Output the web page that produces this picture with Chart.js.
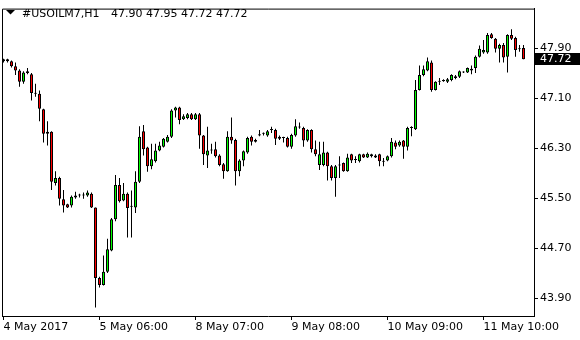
<!DOCTYPE html>
<html>
<head>
<meta charset="utf-8">
<script src="https://cdn.jsdelivr.net/npm/chart.js@4.4.0/dist/chart.umd.min.js"></script>
<style>
  html, body { margin: 0; padding: 0; background: #fff; }
</style>
</head>
<body>
<canvas id="chart" width="580" height="340"></canvas>
<script>
const symbol = '#USOILM7,H1';

// hourly bars
const open = [
  47.69, 47.72, 47.69, 47.61, 47.54, 47.36, 47.53, 47.48, 47.18, 47.17,
  46.92, 46.53, 46.56, 45.74, 45.82, 45.48, 45.40, 45.38, 45.51, 45.54,
  45.54, 45.54, 45.57, 45.35, 44.22, 44.11, 44.32, 44.66, 45.16, 45.71,
  45.46, 45.57, 45.36, 45.35, 45.76, 46.57, 46.31, 46.01, 46.09, 46.26,
  46.32, 46.40, 46.48, 46.90, 46.95, 46.76, 46.78, 46.84, 46.76, 46.84,
  46.50, 46.18, 46.26, 46.28, 46.18, 46.04, 45.93, 46.48, 46.43, 45.93,
  46.10, 46.23, 46.48, 46.40, 46.50, 46.53, 46.50, 46.59, 46.59, 46.45,
  46.46, 46.46, 46.32, 46.50, 46.64, 46.62, 46.42, 46.59, 46.28, 46.03,
  46.03, 46.23, 46.01, 45.82, 46.03, 46.06, 45.93, 46.20, 46.12, 46.09,
  46.20, 46.15, 46.20, 46.15, 46.20, 46.09, 46.10, 46.17, 46.39, 46.34,
  46.42, 46.32, 46.62, 46.60, 47.23, 47.47, 47.54, 47.67, 47.23, 47.36,
  47.37, 47.36, 47.39, 47.42, 47.44, 47.51, 47.51, 47.54, 47.58, 47.76,
  47.83, 47.83, 48.12, 48.05, 47.89, 47.95, 47.76, 48.11, 48.06, 47.88,
  47.90
];
const high = [
  47.73, 47.73, 47.70, 47.67, 47.56, 47.53, 47.58, 47.50, 47.33, 47.22,
  46.93, 46.73, 46.57, 45.93, 45.84, 45.63, 45.41, 45.54, 45.60, 45.57,
  45.59, 45.62, 45.59, 45.35, 44.24, 44.58, 44.85, 45.18, 45.87, 45.82,
  45.74, 45.59, 45.62, 45.93, 46.65, 46.67, 46.32, 46.37, 46.37, 46.40,
  46.46, 46.51, 46.92, 46.96, 46.96, 46.84, 46.86, 46.86, 46.86, 46.86,
  46.51, 46.64, 46.37, 46.40, 46.20, 46.06, 46.57, 46.79, 46.45, 46.12,
  46.26, 46.48, 46.50, 46.45, 46.59, 46.55, 46.59, 46.64, 46.61, 46.50,
  46.48, 46.48, 46.53, 46.76, 46.71, 46.64, 46.60, 46.60, 46.42, 46.40,
  46.40, 46.24, 46.03, 46.03, 46.17, 46.07, 46.21, 46.21, 46.17, 46.21,
  46.21, 46.23, 46.21, 46.20, 46.21, 46.14, 46.18, 46.46, 46.42, 46.42,
  46.43, 46.64, 46.65, 47.39, 47.62, 47.62, 47.75, 47.70, 47.37, 47.42,
  47.40, 47.42, 47.48, 47.47, 47.54, 47.53, 47.59, 47.62, 47.78, 47.94,
  48.03, 48.14, 48.14, 48.06, 47.97, 47.98, 48.12, 48.20, 48.08, 47.95,
  47.95
];
const low = [
  47.67, 47.67, 47.59, 47.47, 47.28, 47.33, 47.48, 47.06, 47.12, 46.73,
  46.39, 46.34, 45.63, 45.70, 45.38, 45.27, 45.34, 45.35, 45.49, 45.51,
  45.49, 45.52, 45.34, 43.75, 44.07, 44.10, 44.30, 44.65, 45.13, 45.43,
  45.45, 44.87, 44.87, 45.26, 45.74, 46.18, 45.92, 45.96, 46.07, 46.25,
  46.31, 46.39, 46.46, 46.79, 46.68, 46.75, 46.76, 46.75, 46.75, 46.29,
  46.03, 45.98, 46.21, 46.15, 46.01, 45.81, 45.92, 46.37, 45.70, 45.85,
  46.01, 46.21, 46.34, 46.39, 46.49, 46.50, 46.48, 46.54, 46.35, 46.43,
  46.39, 46.31, 46.29, 46.48, 46.61, 46.32, 46.40, 46.23, 46.17, 45.95,
  46.01, 45.78, 45.78, 45.52, 45.82, 45.92, 45.92, 46.06, 46.06, 46.07,
  46.14, 46.14, 46.15, 46.14, 46.01, 46.01, 46.09, 46.15, 46.28, 46.32,
  46.13, 46.26, 46.49, 46.59, 47.22, 47.45, 47.53, 47.20, 47.22, 47.31,
  47.36, 47.34, 47.37, 47.40, 47.42, 47.50, 47.50, 47.48, 47.50, 47.75,
  47.81, 47.81, 48.05, 47.83, 47.67, 47.67, 47.51, 48.03, 47.76, 47.84,
  47.72
];
const close = [
  47.72, 47.69, 47.61, 47.54, 47.36, 47.51, 47.50, 47.18, 47.17, 46.93,
  46.53, 46.56, 45.76, 45.82, 45.49, 45.38, 45.35, 45.52, 45.54, 45.54,
  45.55, 45.59, 45.35, 44.22, 44.11, 44.32, 44.68, 45.16, 45.71, 45.45,
  45.57, 45.34, 45.37, 45.76, 46.48, 46.28, 46.01, 46.12, 46.26, 46.34,
  46.45, 46.48, 46.90, 46.95, 46.75, 46.81, 46.84, 46.76, 46.84, 46.50,
  46.20, 46.26, 46.27, 46.17, 46.03, 45.93, 46.48, 46.42, 45.93, 46.10,
  46.25, 46.46, 46.40, 46.43, 46.52, 46.53, 46.57, 46.59, 46.45, 46.48,
  46.47, 46.32, 46.51, 46.65, 46.63, 46.42, 46.59, 46.28, 46.20, 46.20,
  46.23, 46.01, 45.82, 46.01, 46.02, 45.93, 46.15, 46.10, 46.11, 46.20,
  46.15, 46.21, 46.17, 46.18, 46.09, 46.08, 46.17, 46.40, 46.32, 46.40,
  46.32, 46.62, 46.63, 47.23, 47.47, 47.56, 47.69, 47.23, 47.36, 47.37,
  47.39, 47.40, 47.47, 47.45, 47.53, 47.52, 47.58, 47.57, 47.76, 47.89,
  47.87, 48.11, 48.06, 47.89, 47.95, 47.75, 48.11, 48.05, 47.87, 47.89,
  47.72
];

const tickLabels = ['4 May 2017', '5 May 06:00', '8 May 07:00', '9 May 08:00', '10 May 09:00', '11 May 10:00'];
const tickBars = [0, 24, 48, 72, 96, 120];
const priceTicks = [43.90, 44.70, 45.50, 46.30, 47.10, 47.90];

const font = { family: 'DejaVu Sans', size: 11 };
const last = close.length - 1;

// frame, header text and the current price box (MT4 look)
const mt4Extras = {
  id: 'mt4Extras',
  afterDraw(chart) {
    const ctx = chart.ctx;
    const ca = chart.chartArea;
    ctx.save();
    ctx.strokeStyle = '#000';
    ctx.lineWidth = 1;
    ctx.beginPath();
    ctx.moveTo(ca.left + 0.5, ca.bottom);
    ctx.lineTo(ca.left + 0.5, ca.top + 0.5);
    ctx.lineTo(ca.right, ca.top + 0.5);
    ctx.stroke();

    ctx.fillStyle = '#000';
    ctx.beginPath();
    ctx.moveTo(6, 10);
    ctx.lineTo(15, 10);
    ctx.lineTo(10.5, 14.5);
    ctx.closePath();
    ctx.fill();

    ctx.font = '11px "DejaVu Sans"';
    ctx.textBaseline = 'alphabetic';
    ctx.textAlign = 'left';
    ctx.fillText(symbol, 22, 17);
    const ohlc = [open[last], high[last], low[last], close[last]].map(v => v.toFixed(2)).join(' ');
    ctx.fillText(ohlc, 111, 17);

    const y = Math.round(chart.scales.y.getPixelForValue(close[last]));
    ctx.fillRect(ca.right + 1, y - 6, 580 - ca.right - 1, 12);
    ctx.fillStyle = '#fff';
    ctx.textBaseline = 'middle';
    ctx.fillText(close[last].toFixed(2), ca.right + 6, y + 0.5);
    ctx.restore();
  }
};

new Chart(document.getElementById('chart'), {
  type: 'bar',
  data: {
    datasets: [
      {
        label: 'body',
        order: 1,
        grouped: false,
        data: open.map((o, i) => ({ x: i, y: [o, close[i]] })),
        backgroundColor: open.map((o, i) => close[i] >= o ? '#00ff00' : '#ff0000'),
        borderColor: '#000',
        borderWidth: 1,
        borderSkipped: false,
        inflateAmount: 0,
        barThickness: 3,
        minBarLength: 1
      },
      {
        label: 'wick',
        order: 2,
        grouped: false,
        data: low.map((l, i) => ({ x: i, y: [l, high[i]] })),
        backgroundColor: '#000',
        borderWidth: 0,
        inflateAmount: 0,
        barThickness: 1
      }
    ]
  },
  options: {
    responsive: false,
    animation: false,
    devicePixelRatio: 1,
    layout: { padding: { left: 2, top: 2, right: 0, bottom: 0 } },
    plugins: {
      legend: { display: false },
      tooltip: { enabled: false }
    },
    scales: {
      x: {
        type: 'linear',
        offset: false,
        min: -0.375,
        max: 132.625,
        afterBuildTicks: s => { s.ticks = tickBars.map(v => ({ value: v })); },
        afterFit: s => { s.height = 24; },
        grid: { offset: false, drawOnChartArea: false, drawTicks: true, tickLength: 4, color: '#000' },
        border: { display: true, color: '#000' },
        ticks: {
          autoSkip: false,
          maxRotation: 0,
          align: 'start',
          padding: 1,
          color: '#000',
          font: font,
          callback: (v, i) => tickLabels[i]
        }
      },
      y: {
        position: 'right',
        min: 43.613,
        max: 48.531,
        afterBuildTicks: s => { s.ticks = priceTicks.map(v => ({ value: v })); },
        afterFit: s => { s.width = 46; },
        grid: { drawOnChartArea: false, drawTicks: true, tickLength: 4, color: '#000' },
        border: { display: true, color: '#000' },
        ticks: {
          padding: 2,
          color: '#000',
          font: font,
          callback: v => v.toFixed(2)
        }
      }
    }
  },
  plugins: [mt4Extras]
});
</script>
</body>
</html>
